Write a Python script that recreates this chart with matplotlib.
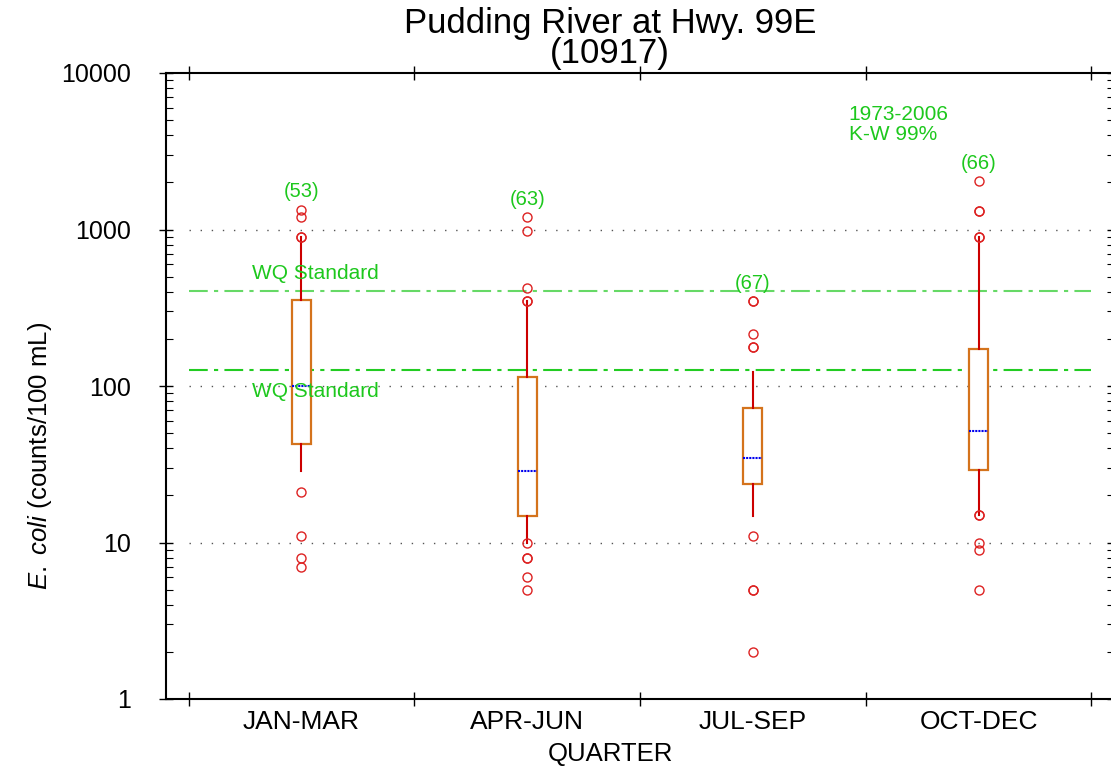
import matplotlib
matplotlib.use("Agg")
import matplotlib.pyplot as plt
from matplotlib.ticker import FixedLocator, NullFormatter, LogLocator

plt.rcParams['font.family'] = ['Liberation Sans', 'DejaVu Sans']
plt.rcParams['mathtext.fontset'] = 'custom'
plt.rcParams['mathtext.rm'] = 'Liberation Sans'
plt.rcParams['mathtext.it'] = 'Liberation Sans:italic'

# data
quarters = ["JAN-MAR", "APR-JUN", "JUL-SEP", "OCT-DEC"]
counts = [53, 63, 67, 66]
q1 = [42.6, 14.8, 23.8, 28.9]
med = [100, 28.6, 34.7, 51.3]
q3 = [355, 114.5, 72.7, 172]
whislo = [28.8, 10, 14.8, 15]
whishi = [895, 350, 122, 900]
fliers = [
    [1340, 1210, 895, 895, 21, 11, 8, 7],
    [1200, 980, 420, 350, 350, 10, 8, 8, 6, 5],
    [350, 350, 215, 177, 177, 11, 5, 5, 2],
    [2040, 1320, 1320, 900, 900, 15, 15, 10, 9, 5],
]
wq_standards = [406, 126]
period_note = "1973-2006\nK-W 99%"

green = "#1dc81d"

fig = plt.figure(figsize=(11.11, 7.72), dpi=100)
ax = fig.add_axes([166 / 1111, 73 / 772, 948 / 1111, 626 / 772])

stats = []
for i in range(len(quarters)):
    stats.append({"med": med[i], "q1": q1[i], "q3": q3[i],
                  "whislo": whislo[i], "whishi": whishi[i], "fliers": fliers[i]})

pos = list(range(1, len(quarters) + 1))
ax.bxp(stats, positions=pos, widths=0.085, showcaps=False, patch_artist=True,
       boxprops=dict(facecolor="white", edgecolor="#d4731c", linewidth=1.6),
       whiskerprops=dict(color="#cc0000", linewidth=1.5),
       medianprops=dict(color="#0000ee", linewidth=1.5, linestyle=(0, (1, 0.5))),
       flierprops=dict(marker="o", markerfacecolor="none", markeredgecolor="#dd2222",
                       markersize=6.5, markeredgewidth=1.0),
       zorder=3)

ax.set_yscale("log")
ax.set_ylim(1, 10000)
ax.set_xlim(0.4, 4.6)

# dotted grid at decades
ax.hlines([10, 100, 1000], 0.5, 4.5, colors="#555555", linewidth=1.0,
          linestyles=[(0, (1, 7))], zorder=0)

# water quality standards
ax.hlines(wq_standards[0], 0.5, 4.5, colors="#66d966", linewidth=1.5,
          linestyles=[(0, (9, 3, 2, 3))], zorder=1)
ax.hlines(wq_standards[1], 0.5, 4.5, colors="#22cc22", linewidth=1.5,
          linestyles=[(0, (9, 3, 2, 3))], zorder=1)
ax.text(0.783, wq_standards[0] * 1.28, "WQ Standard", color=green, fontsize=15,
        va="center", ha="left", zorder=4)
ax.text(0.783, wq_standards[1] * 0.73, "WQ Standard", color=green, fontsize=15,
        va="center", ha="left", zorder=4)

for i, n in enumerate(counts):
    ax.text(pos[i], max(fliers[i]) * 1.3, "(%d)" % n, color=green, fontsize=14.5,
            ha="center", va="center")

ax.text(3.425, 4690, period_note, color=green, fontsize=15, ha="left", va="center",
        linespacing=1.1)

# ticks
ax.xaxis.set_major_locator(FixedLocator([0.5, 1.5, 2.5, 3.5, 4.5]))
ax.xaxis.set_major_formatter(NullFormatter())
ax.xaxis.set_minor_locator(FixedLocator(pos))
ax.set_xticklabels(quarters, minor=True)
ax.tick_params(axis="x", which="major", direction="inout", length=10, width=1,
               top=True, bottom=True)
ax.tick_params(axis="x", which="minor", length=0, pad=8, labelsize=19)

ax.set_yticks([1, 10, 100, 1000, 10000])
ax.set_yticklabels(["1", "10", "100", "1000", "10000"])
ax.yaxis.set_minor_locator(LogLocator(base=10, subs=range(2, 10)))
ax.yaxis.set_minor_formatter(NullFormatter())
ax.tick_params(axis="y", which="major", direction="inout", length=10, width=1,
               left=True, right=True, labelsize=18, pad=20)
ax.tick_params(axis="y", which="minor", direction="in", length=5, width=0.8,
               left=True, right=True)

for s in ["left", "bottom", "top"]:
    ax.spines[s].set_linewidth(1.5)
ax.spines["right"].set_visible(False)

fig.text(610 / 1111, 1 - 23 / 772, "Pudding River at Hwy. 99E", fontsize=25,
         ha="center", va="center")
fig.text(610 / 1111, 1 - 53 / 772, "(10917)", fontsize=25, ha="center", va="center")
fig.text(610 / 1111, 1 - 754 / 772, "QUARTER", fontsize=18.5, ha="center", va="center")
fig.text(40 / 1111, 1 - 456 / 772, r"$\mathit{E.\ coli}$ (counts/100 mL)", fontsize=18.5,
         rotation=90, ha="center", va="center")

fig.savefig("out.png", dpi=100)
